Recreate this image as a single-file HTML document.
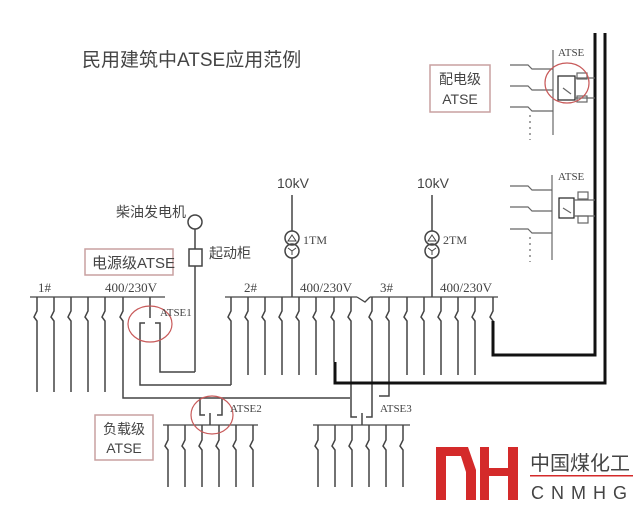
<!DOCTYPE html>
<html><head><meta charset="utf-8"><style>
body{margin:0;background:#fff}
svg{display:block}
.s{font-family:"Liberation Serif","Noto Serif CJK SC",serif;fill:#444}
.k{font-family:"Liberation Sans","Noto Sans CJK SC",sans-serif;fill:#444}
</style></head><body>
<svg width="640" height="511" viewBox="0 0 640 511" xmlns="http://www.w3.org/2000/svg">
<text x="82" y="66" class="k" font-size="19" fill="#555">民用建筑中ATSE应用范例</text>

<g stroke="#444" fill="none" stroke-width="1.3">
<line x1="30" y1="297" x2="165" y2="297"/>
<line x1="225" y1="297" x2="357" y2="297"/>
<path d="M357 297 L365 302 L370 297"/>
<line x1="370" y1="297" x2="498" y2="297"/>
<line x1="163" y1="425" x2="258" y2="425"/>
<line x1="313" y1="425" x2="410" y2="425"/>
</g>

<g stroke="#444" stroke-width="1.5" fill="none">
<path d="M37 297V311l-3 6 3 4V392"/>
<path d="M54 297V311l-3 6 3 4V392"/>
<path d="M71 297V311l-3 6 3 4V392"/>
<path d="M88 297V311l-3 6 3 4V392"/>
<path d="M105 297V311l-3 6 3 4V392"/>
<path d="M123 297V311l-3 6 3 4V398H350"/>
<path d="M248 297V311l-3 6 3 4V375"/>
<path d="M265 297V311l-3 6 3 4V375"/>
<path d="M282 297V311l-3 6 3 4V375"/>
<path d="M299 297V311l-3 6 3 4V375"/>
<path d="M316 297V311l-3 6 3 4V375"/>
<path d="M334 297V311l-3 6 3 4V362"/>
<path d="M351 297V311l-3 6 3 4V417h6"/>
<path d="M372 297V311l-3 6 3 4V417h-6"/>
<path d="M389 297V311l-3 6 3 4V396h-10"/>
<path d="M407 297V311l-3 6 3 4V375"/>
<path d="M424 297V311l-3 6 3 4V375"/>
<path d="M441 297V311l-3 6 3 4V375"/>
<path d="M458 297V311l-3 6 3 4V375"/>
<path d="M475 297V311l-3 6 3 4V375"/>
<path d="M493 297V311l-3 6 3 4V322"/>
<path d="M362 413V425"/>
<path d="M318 425V440l-3 6 3 4V487"/>
<path d="M335 425V440l-3 6 3 4V487"/>
<path d="M352 425V440l-3 6 3 4V487"/>
<path d="M369 425V440l-3 6 3 4V487"/>
<path d="M386 425V440l-3 6 3 4V487"/>
<path d="M403 425V440l-3 6 3 4V487"/>
<path d="M168 425V440l-3 6 3 4V487"/>
<path d="M185 425V440l-3 6 3 4V487"/>
<path d="M202 425V440l-3 6 3 4V487"/>
<path d="M219 425V440l-3 6 3 4V487"/>
<path d="M236 425V440l-3 6 3 4V487"/>
<path d="M253 425V440l-3 6 3 4V487"/>
<path d="M200 398V415h5M222 398V415h-5M210 413V425"/>
<path d="M150 297V318"/>
<path d="M145 323h-5V385H231"/>
<path d="M155 323h5V372H195"/>
<path d="M231 297V311l-3 6 3 4V385"/>
<circle cx="195" cy="222" r="7"/>
<line x1="195" y1="229" x2="195" y2="249"/>
<rect x="189" y="249" width="13" height="17"/>
<line x1="195" y1="266" x2="195" y2="372"/>
<line x1="292" y1="195" x2="292" y2="231"/>
<circle cx="292" cy="238" r="7"/><circle cx="292" cy="251" r="7"/>
<line x1="292" y1="258" x2="292" y2="297"/>
<line x1="432" y1="195" x2="432" y2="231"/>
<circle cx="432" cy="238" r="7"/><circle cx="432" cy="251" r="7"/>
<line x1="432" y1="258" x2="432" y2="297"/>
</g>
<g stroke="#444" stroke-width="1" fill="none">
<path d="M288 241l4-6 4 6z M428 241l4-6 4 6z"/>
<path d="M292 251v4m0-4l-4-3m4 3l4-3 M432 251v4m0-4l-4-3m4 3l4-3"/>
</g>

<g stroke="#111" stroke-width="3" fill="none">
<path d="M335 362V383H605V33"/>
<path d="M493 321V355H595V33"/>
</g>

<g stroke="#666" stroke-width="1.2" fill="none">
<line x1="553" y1="50" x2="553" y2="135"/>
<path d="M510 65h18l4 4h21M510 86h18l4 4h21M510 107h18l4 4h21"/>
<line x1="530" y1="115" x2="530" y2="140" stroke-dasharray="2 4"/>
<rect x="558" y="76" width="17" height="24" stroke="#222"/>
<path d="M563 88l8 6"/>
<path d="M575 78h20M575 98h20"/>
<rect x="577" y="73" width="10" height="6"/><rect x="577" y="96" width="10" height="6"/>
<line x1="552" y1="175" x2="552" y2="260"/>
<path d="M510 186h18l4 4h20M510 207h18l4 4h20M510 229h18l4 4h20"/>
<line x1="530" y1="237" x2="530" y2="262" stroke-dasharray="2 4"/>
<rect x="559" y="198" width="15" height="20" stroke="#222"/>
<path d="M563 208l8 5"/>
<path d="M574 200h21M574 216h21"/>
<rect x="578" y="192" width="10" height="7"/><rect x="578" y="216" width="10" height="7"/>
</g>

<g stroke="#c85a5a" stroke-width="1.2" fill="none">
<ellipse cx="150" cy="324" rx="22" ry="18"/>
<ellipse cx="212" cy="415" rx="21" ry="19"/>
<ellipse cx="567" cy="83" rx="22" ry="20"/>
</g>

<g stroke="#c9a0a0" stroke-width="1.5" fill="#fff">
<rect x="85" y="249" width="88" height="26"/>
<rect x="95" y="415" width="58" height="45"/>
<rect x="430" y="65" width="60" height="47"/>
</g>
<text x="92" y="268" class="k" font-size="15">电源级ATSE</text>
<text x="124" y="434" class="k" font-size="14" text-anchor="middle">负载级</text>
<text x="124" y="453" class="k" font-size="14" text-anchor="middle">ATSE</text>
<text x="460" y="84" class="k" font-size="14" text-anchor="middle">配电级</text>
<text x="460" y="104" class="k" font-size="14" text-anchor="middle">ATSE</text>

<g class="s" font-size="13">
<text x="38" y="292">1#</text>
<text x="105" y="292">400/230V</text>
<text x="244" y="292">2#</text>
<text x="300" y="292">400/230V</text>
<text x="380" y="292">3#</text>
<text x="440" y="292">400/230V</text>
<text x="160" y="316" font-size="11">ATSE1</text>
<text x="230" y="412" font-size="11">ATSE2</text>
<text x="380" y="412" font-size="11">ATSE3</text>
<text x="303" y="244" font-size="12">1TM</text>
<text x="443" y="244" font-size="12">2TM</text>
<text x="558" y="56" font-size="11">ATSE</text>
<text x="558" y="180" font-size="11">ATSE</text>
</g>
<text x="277" y="188" class="k" font-size="14">10kV</text>
<text x="417" y="188" class="k" font-size="14">10kV</text>
<text x="116" y="217" class="k" font-size="14">柴油发电机</text>
<text x="209" y="258" class="k" font-size="14">起动柜</text>

<g fill="#d42a2a">
<rect x="436" y="447" width="10" height="53"/>
<rect x="436" y="447" width="28" height="9"/>
<polygon points="458,447 468,447 476,470 476,500 466,500 466,472"/>
<rect x="480" y="447" width="9" height="53"/>
<rect x="508" y="447" width="10" height="53"/>
<rect x="480" y="468" width="38" height="8"/>
</g>
<text x="530" y="470" class="k" font-size="20" fill="#222">中国煤化工</text>
<rect x="530" y="475" width="103" height="1.5" fill="#d42a2a"/>
<text x="531" y="499" class="k" font-size="18" fill="#333" letter-spacing="7">CNMHG</text>
</svg>
</body></html>
